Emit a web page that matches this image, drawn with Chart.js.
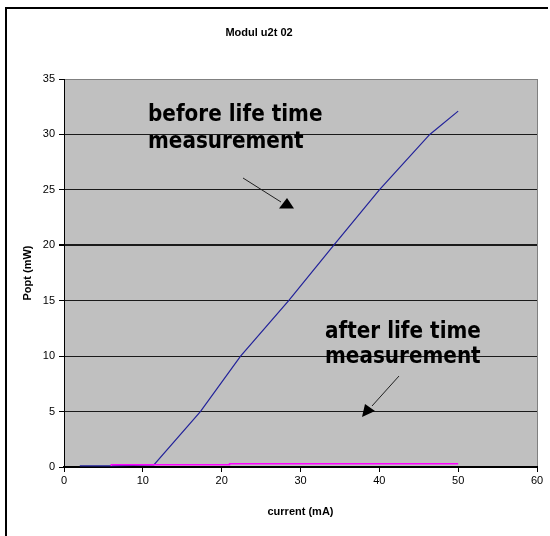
<!DOCTYPE html>
<html>
<head>
<meta charset="utf-8">
<title>Modul u2t 02</title>
<script src="https://cdn.jsdelivr.net/npm/chart.js@4/dist/chart.umd.min.js"></script>
<style>
  html, body { margin: 0; padding: 0; background: #ffffff; }
  #wrap { width: 550px; height: 536px; position: relative; }
</style>
</head>
<body>
<div id="wrap"><canvas id="chart" width="550" height="536"></canvas></div>
<script>
// Optical power vs. drive current, before and after the life time test
const chartTitle = 'Modul u2t 02';
const xAxisTitle = 'current (mA)';
const yAxisTitle = 'Popt (mW)';

const currentBefore = [2, 6, 11.4, 17.3, 22.4, 28.5, 34.2, 40.0, 46.4, 50.0];
const poptBefore    = [0.1, 0.1, 0.2, 5, 10, 15, 20, 25, 30, 32.1];

const currentAfter = [6, 21, 31, 50];
const poptAfter    = [0.1, 0.2, 0.3, 0.3];

const xTicks = [0, 10, 20, 30, 40, 50, 60];
const yTicks = [0, 5, 10, 15, 20, 25, 30, 35];

const labelBefore = ['before life time', 'measurement'];
const labelAfter  = ['after life time', 'measurement'];

const toPoints = (xs, ys) => xs.map((x, i) => ({ x: x, y: ys[i] }));

// Bold callout text, slightly stretched vertically
function tallText(ctx, text, x, y) {
  ctx.save();
  ctx.translate(x, y);
  ctx.scale(1, 1.15);
  ctx.fillText(text, 0, 0);
  ctx.restore();
}

// Grey plot background, outer frame, title and the two callouts
const decorations = {
  id: 'decorations',
  beforeDraw(chart) {
    const { ctx, chartArea: a } = chart;
    ctx.save();
    ctx.fillStyle = '#ffffff';
    ctx.fillRect(0, 0, chart.width, chart.height);
    ctx.fillStyle = '#c0c0c0';
    ctx.fillRect(a.left, a.top, a.right - a.left, a.bottom - a.top);
    ctx.restore();
  },
  afterDraw(chart) {
    const { ctx } = chart;
    ctx.save();
    // frame
    ctx.strokeStyle = '#000000';
    ctx.lineWidth = 2;
    ctx.beginPath();
    ctx.moveTo(6, 536);
    ctx.lineTo(6, 8);
    ctx.lineTo(548, 8);
    ctx.stroke();

    // title
    ctx.fillStyle = '#000000';
    ctx.font = 'bold 11px "Liberation Sans", Arial, sans-serif';
    ctx.textAlign = 'center';
    ctx.textBaseline = 'middle';
    ctx.fillText(chartTitle, 259, 33);

    // callout texts
    ctx.font = 'bold 20px "DejaVu Sans", Verdana, sans-serif';
    ctx.textAlign = 'left';
    ctx.textBaseline = 'alphabetic';
    tallText(ctx, labelBefore[0], 148, 121);
    tallText(ctx, labelBefore[1], 148, 148);
    tallText(ctx, labelAfter[0], 325, 338);
    tallText(ctx, labelAfter[1], 325, 363);

    // arrow towards the upper curve
    ctx.strokeStyle = '#202020';
    ctx.lineWidth = 1;
    ctx.beginPath();
    ctx.moveTo(243, 178);
    ctx.lineTo(281, 202);
    ctx.stroke();
    ctx.fillStyle = '#000000';
    ctx.beginPath();
    ctx.moveTo(287, 198);
    ctx.lineTo(279, 208.5);
    ctx.lineTo(294, 208.5);
    ctx.closePath();
    ctx.fill();

    // arrow towards the lower curve
    ctx.beginPath();
    ctx.moveTo(399, 376);
    ctx.lineTo(372, 406);
    ctx.stroke();
    ctx.beginPath();
    ctx.moveTo(362, 417);
    ctx.lineTo(365, 404);
    ctx.lineTo(375, 411);
    ctx.closePath();
    ctx.fill();
    ctx.restore();
  }
};

const tickFont = { family: '"Liberation Sans", Arial, sans-serif', size: 11 };
const titleFont = { family: '"Liberation Sans", Arial, sans-serif', size: 11, weight: 'bold' };

new Chart(document.getElementById('chart'), {
  type: 'scatter',
  data: {
    datasets: [
      {
        label: 'after life time measurement',
        data: toPoints(currentAfter, poptAfter),
        showLine: true,
        stepped: 'after',
        borderColor: '#ff00ff',
        borderWidth: 1.5,
        pointRadius: 0,
        fill: false
      },
      {
        label: 'before life time measurement',
        data: toPoints(currentBefore, poptBefore),
        showLine: true,
        borderColor: '#22229a',
        borderWidth: 1.2,
        pointRadius: 0,
        tension: 0,
        fill: false
      }
    ]
  },
  options: {
    responsive: false,
    animation: false,
    devicePixelRatio: 1,
    layout: { padding: { top: 79, right: 13, bottom: 0, left: 0 } },
    plugins: {
      legend: { display: false },
      tooltip: { enabled: false },
      title: { display: false }
    },
    scales: {
      x: {
        type: 'linear',
        min: 0,
        max: 60,
        afterBuildTicks(scale) { scale.ticks = xTicks.map(v => ({ value: v })); },
        afterFit(scale) { scale.height = 69; },
        ticks: { color: '#000000', font: tickFont, padding: 2, maxRotation: 0 },
        grid: {
          drawOnChartArea: true,
          color: (c) => (c.tick && c.tick.value === 60 ? '#808080' : 'rgba(0,0,0,0)'),
          tickColor: '#000000',
          tickLength: 5,
          lineWidth: 1
        },
        border: { color: '#000000', width: 2 },
        title: { display: true, text: xAxisTitle, color: '#000000', font: titleFont, padding: { top: 4, bottom: 17 } }
      },
      y: {
        type: 'linear',
        min: 0,
        max: 35,
        afterBuildTicks(scale) { scale.ticks = yTicks.map(v => ({ value: v })); },
        afterFit(scale) { scale.width = 64; },
        ticks: { color: '#000000', font: tickFont, padding: 4 },
        grid: {
          color: (c) => {
            if (!c.tick) return '#000000';
            if (c.tick.value === 35) return '#808080';
            if (c.tick.value === 0) return 'rgba(0,0,0,0)';
            return '#1a1a1a';
          },
          lineWidth: (c) => (c.tick && c.tick.value === 20 ? 2 : 1),
          tickColor: '#000000',
          tickLength: 5
        },
        border: { color: '#000000', width: 1 },
        title: { display: true, text: yAxisTitle, color: '#000000', font: titleFont, padding: { top: 21, bottom: 0 } }
      }
    }
  },
  plugins: [decorations]
});
</script>
</body>
</html>
